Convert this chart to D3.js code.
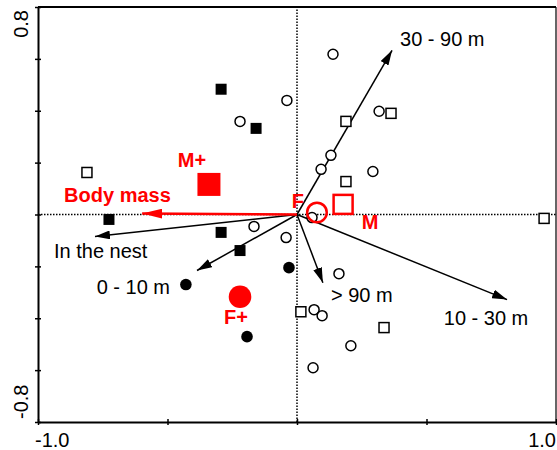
<!DOCTYPE html>
<html>
<head>
<meta charset="utf-8">
<script src="https://cdn.jsdelivr.net/npm/d3@7"></script>
<style>
  body { margin: 0; background: #fff; }
  svg { display: block; font-family: "Liberation Sans", Arial, sans-serif; }
</style>
</head>
<body>
<div id="chart"></div>
<script>
// Site scores (x = axis 1, y = axis 2)
const openSquares = [[-0.811, 0.162], [0.189, 0.359], [0.363, 0.390], [0.189, 0.127],
    [0.954, -0.015], [0.015, -0.375], [0.336, -0.436]];
const filledSquares = [[-0.293, 0.483], [-0.158, 0.332], [-0.726, -0.019], [-0.293, -0.069], [-0.220, -0.139]];
const openCircles = [[0.139, 0.618], [-0.039, 0.440], [-0.220, 0.359], [0.317, 0.398], [0.131, 0.228],
    [0.093, 0.174], [0.293, 0.166], [0.058, -0.012], [-0.166, -0.046], [-0.042, -0.089],
    [0.162, -0.228], [0.066, -0.367], [0.097, -0.390], [0.208, -0.506], [0.062, -0.591]];
const filledCircles = [[-0.031, -0.205], [-0.429, -0.270], [-0.193, -0.471]];

// Group centroids (red)
const centroidNames = ['M+', 'M', 'F', 'F+'];
const centroidXY = [[-0.340, 0.116], [0.178, 0.039], [0.077, 0.008], [-0.220, -0.317]];

// Environmental arrows
const arrowNames = ['30 - 90 m', '10 - 30 m', '> 90 m', '0 - 10 m', 'In the nest'];
const arrowXY = [[0.367, 0.633], [0.811, -0.328], [0.100, -0.263], [-0.386, -0.216], [-0.780, -0.085]];
const bodyMass = { name: 'Body mass', x: -0.598, y: 0.004 };

// Axis ticks
const xTicks = [-1, -0.5, 0, 0.5, 1];
const yTicks = [-0.8, -0.6, -0.4, -0.2, 0, 0.2, 0.4, 0.6, 0.8];
const xTickLabels = ['-1.0', '1.0'];
const yTickLabels = ['-0.8', '0.8'];

const width = 557, height = 450;
const margin = { top: 7, right: 1, bottom: 28, left: 38 };
const red = '#ff0000';

const svg = d3.select('#chart').append('svg')
    .attr('width', width)
    .attr('height', height);

const x = d3.scaleLinear().domain([-1, 1]).range([margin.left, width - margin.right]);
const y = d3.scaleLinear().domain([-0.8, 0.8]).range([height - margin.bottom, margin.top]);

// arrow heads
const defs = svg.append('defs');
defs.append('marker')
    .attr('id', 'head-black')
    .attr('viewBox', '0 0 15 9')
    .attr('refX', 15).attr('refY', 4.5)
    .attr('markerWidth', 15).attr('markerHeight', 9)
    .attr('markerUnits', 'userSpaceOnUse')
    .attr('orient', 'auto')
    .append('path').attr('d', 'M0,0L15,4.5L0,9Z').attr('fill', '#000');
defs.append('marker')
    .attr('id', 'head-red')
    .attr('viewBox', '0 0 20 10')
    .attr('refX', 20).attr('refY', 5)
    .attr('markerWidth', 20).attr('markerHeight', 10)
    .attr('markerUnits', 'userSpaceOnUse')
    .attr('orient', 'auto')
    .append('path').attr('d', 'M0,0L20,5L0,10Z').attr('fill', red);

// zero lines
svg.append('line')
    .attr('x1', x(-1)).attr('x2', x(1))
    .attr('y1', y(0)).attr('y2', y(0))
    .attr('stroke', '#000').attr('stroke-width', 1.5)
    .attr('stroke-dasharray', '1.5,1.5');
svg.append('line')
    .attr('x1', x(0)).attr('x2', x(0))
    .attr('y1', y(-0.8)).attr('y2', y(0.8))
    .attr('stroke', '#000').attr('stroke-width', 1.5)
    .attr('stroke-dasharray', '1.5,1.5');

// Axes
const xAxis = svg.append('g')
    .attr('transform', `translate(0,${y(-0.8)})`)
    .call(d3.axisBottom(x).tickValues(xTicks).tickSize(3).tickSizeOuter(0).tickFormat(''));
const yAxis = svg.append('g')
    .attr('transform', `translate(${x(-1)},0)`)
    .call(d3.axisLeft(y).tickValues(yTicks).tickSize(3).tickSizeOuter(0).tickFormat(''));

// ticks cross the axis line
xAxis.selectAll('.tick line').attr('y1', -3).attr('y2', 3).attr('stroke-width', 1.5);
yAxis.selectAll('.tick line').attr('x1', -3).attr('x2', 3).attr('stroke-width', 1.5);
xAxis.select('.domain').attr('stroke-width', 2);
yAxis.select('.domain').attr('stroke-width', 2);

// frame top and right
svg.append('line')
    .attr('x1', x(-1)).attr('x2', x(1))
    .attr('y1', y(0.8)).attr('y2', y(0.8))
    .attr('stroke', '#000').attr('stroke-width', 2);
svg.append('line')
    .attr('x1', x(1)).attr('x2', x(1))
    .attr('y1', y(0.8)).attr('y2', y(-0.8))
    .attr('stroke', '#000').attr('stroke-width', 1.2);

// tick labels
svg.append('text').text(xTickLabels[0])
    .attr('x', x(-1) - 3).attr('y', height - 3)
    .attr('font-size', 20);
svg.append('text').text(xTickLabels[1])
    .attr('x', x(1)).attr('y', height - 3)
    .attr('text-anchor', 'end')
    .attr('font-size', 20);
svg.append('text').text(yTickLabels[1])
    .attr('transform', `translate(28,${y(0.8) + 3}) rotate(-90)`)
    .attr('text-anchor', 'end')
    .attr('font-size', 20);
svg.append('text').text(yTickLabels[0])
    .attr('transform', `translate(28,${y(-0.8) - 3}) rotate(-90)`)
    .attr('text-anchor', 'start')
    .attr('font-size', 20);

// Environmental arrows
const arrows = svg.append('g');
arrows.selectAll('line')
    .data(arrowXY)
    .join('line')
    .attr('x1', x(0)).attr('y1', y(0))
    .attr('x2', d => x(d[0])).attr('y2', d => y(d[1]))
    .attr('stroke', '#000').attr('stroke-width', 1.5)
    .attr('marker-end', 'url(#head-black)');

// label offsets from arrow tips (pixels)
const arrowLabelPos = [
    { dx: 8, dy: -4, anchor: 'start' },
    { dx: -21, dy: 25, anchor: 'middle' },
    { dx: 8, dy: 19, anchor: 'start' },
    { dx: -27, dy: 23, anchor: 'end' },
    { dx: -41, dy: 21, anchor: 'start' }
];
arrows.selectAll('text')
    .data(arrowXY)
    .join('text')
    .text((d, i) => arrowNames[i])
    .attr('x', (d, i) => x(d[0]) + arrowLabelPos[i].dx)
    .attr('y', (d, i) => y(d[1]) + arrowLabelPos[i].dy)
    .attr('text-anchor', (d, i) => arrowLabelPos[i].anchor)
    .attr('font-size', 20)
    .attr('fill', '#000');

// Site points
const pts = svg.append('g');
const sq = 10;
pts.selectAll('.osq')
    .data(openSquares)
    .join('rect')
    .attr('class', 'osq')
    .attr('x', d => x(d[0]) - sq / 2).attr('y', d => y(d[1]) - sq / 2)
    .attr('width', sq).attr('height', sq)
    .attr('fill', '#fff').attr('stroke', '#000').attr('stroke-width', 1.5);
pts.selectAll('.fsq')
    .data(filledSquares)
    .join('rect')
    .attr('class', 'fsq')
    .attr('x', d => x(d[0]) - 5.5).attr('y', d => y(d[1]) - 5.5)
    .attr('width', 11).attr('height', 11)
    .attr('fill', '#000');
pts.selectAll('.oc')
    .data(openCircles)
    .join('circle')
    .attr('class', 'oc')
    .attr('cx', d => x(d[0])).attr('cy', d => y(d[1]))
    .attr('r', 5)
    .attr('fill', '#fff').attr('stroke', '#000').attr('stroke-width', 1.5);
pts.selectAll('.fc')
    .data(filledCircles)
    .join('circle')
    .attr('class', 'fc')
    .attr('cx', d => x(d[0])).attr('cy', d => y(d[1]))
    .attr('r', 5.8)
    .attr('fill', '#000');

// Body mass arrow (red)
svg.append('line')
    .attr('x1', x(0)).attr('y1', y(0))
    .attr('x2', x(bodyMass.x)).attr('y2', y(bodyMass.y))
    .attr('stroke', red).attr('stroke-width', 2.5)
    .attr('marker-end', 'url(#head-red)');
svg.append('text').text(bodyMass.name)
    .attr('x', x(bodyMass.x) - 78).attr('y', y(bodyMass.y) - 11)
    .attr('font-size', 20).attr('font-weight', 'bold')
    .attr('fill', red);

// Centroids
const cen = svg.append('g');
// M+ filled square
cen.append('rect')
    .attr('x', x(centroidXY[0][0]) - 11.5).attr('y', y(centroidXY[0][1]) - 11.5)
    .attr('width', 23).attr('height', 23)
    .attr('fill', red);
// M open square
cen.append('rect')
    .attr('x', x(centroidXY[1][0]) - 9.5).attr('y', y(centroidXY[1][1]) - 9.5)
    .attr('width', 19).attr('height', 19)
    .attr('fill', 'none').attr('stroke', red).attr('stroke-width', 2.5);
// F open circle
cen.append('circle')
    .attr('cx', x(centroidXY[2][0])).attr('cy', y(centroidXY[2][1]))
    .attr('r', 9.8)
    .attr('fill', 'none').attr('stroke', red).attr('stroke-width', 2.5);
// F+ filled circle
cen.append('circle')
    .attr('cx', x(centroidXY[3][0])).attr('cy', y(centroidXY[3][1]))
    .attr('r', 11.3)
    .attr('fill', red);

// centroid labels (offsets in pixels)
const centroidLabelPos = [
    { dx: -17, dy: -17 },
    { dx: 27, dy: 25 },
    { dx: -19, dy: -4 },
    { dx: -4, dy: 27 }
];
cen.selectAll('text')
    .data(centroidXY)
    .join('text')
    .text((d, i) => centroidNames[i])
    .attr('x', (d, i) => x(d[0]) + centroidLabelPos[i].dx)
    .attr('y', (d, i) => y(d[1]) + centroidLabelPos[i].dy)
    .attr('text-anchor', 'middle')
    .attr('font-size', 20).attr('font-weight', 'bold')
    .attr('fill', red);
</script>
</body>
</html>
